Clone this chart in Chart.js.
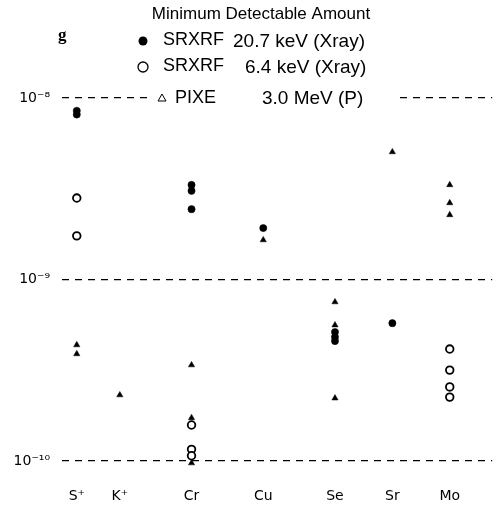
<!DOCTYPE html>
<html>
<head>
<meta charset="utf-8">
<script src="https://cdn.jsdelivr.net/npm/chart.js@4.4.1/dist/chart.umd.min.js"></script>
<style>
  body { margin: 0; background: #fff; }
  canvas { display: block; }
</style>
</head>
<body>
<canvas id="myChart" width="498" height="505"></canvas>
<script>
    "use strict";

    // elements on the x axis, placed by atomic number
    const elements = ['S\u207A', 'K\u207A', 'Cr', 'Cu', 'Se', 'Sr', 'Mo'];
    const atomicNumbers = [16, 19, 24, 29, 34, 38, 42];
    const yTicks = [1e-10, 1e-9, 1e-8];
    const yTickLabels = ['10\u207B\u00B9\u2070', '10\u207B\u2079', '10\u207B\u2078'];

    // SRXRF 20.7 keV (filled circles)
    const srxrf20Elems = ['S\u207A', 'S\u207A', 'Cr', 'Cr', 'Cr', 'Cu', 'Se', 'Se', 'Se', 'Sr'];
    const srxrf20Vals = [8.5e-9, 8.1e-9, 3.32e-9, 3.08e-9, 2.44e-9, 1.92e-9, 5.14e-10, 4.82e-10, 4.58e-10, 5.75e-10];

    // SRXRF 6.4 keV (open circles)
    const srxrf6Elems = ['S\u207A', 'S\u207A', 'Cr', 'Cr', 'Cr', 'Mo', 'Mo', 'Mo', 'Mo'];
    const srxrf6Vals = [2.81e-9, 1.74e-9, 1.58e-10, 1.16e-10, 1.07e-10, 4.14e-10, 3.17e-10, 2.56e-10, 2.25e-10];

    // PIXE 3.0 MeV (triangles)
    const pixeElems = ['S\u207A', 'S\u207A', 'K\u207A', 'Cr', 'Cr', 'Cr', 'Cu', 'Se', 'Se', 'Se', 'Sr', 'Mo', 'Mo', 'Mo'];
    const pixeVals = [4.36e-10, 3.89e-10, 2.31e-10, 3.38e-10, 1.73e-10, 9.75e-11, 1.65e-9, 7.52e-10, 5.61e-10, 2.22e-10, 5.04e-9, 3.32e-9, 2.64e-9, 2.27e-9];

    function toPoints(elems, vals) {
        return elems.map((e, i) => ({ x: atomicNumbers[elements.indexOf(e)], y: vals[i] }));
    }

    const legendPlugin = {
        id: 'mdaLegend',
        afterDraw(chart) {
            const c = chart.ctx;
            c.save();
            c.fillStyle = '#fff';
            c.fillRect(148, 86, 252, 24);
            c.fillStyle = '#000';
            c.strokeStyle = '#000';
            c.textBaseline = 'middle';
            c.font = '17px "Liberation Sans", Arial, sans-serif';
            c.textAlign = 'center';
            c.fillText('Minimum Detectable Amount', 261, 14);
            c.textAlign = 'left';
            c.font = 'bold 17px "Liberation Serif", serif';
            c.fillText('g', 58, 36);

            // row 1
            c.beginPath(); c.arc(143, 41, 4.5, 0, Math.PI * 2); c.fill();
            c.font = '18px "Liberation Sans", Arial, sans-serif';
            c.fillText('SRXRF', 163, 40);
            c.font = '19px "Liberation Sans", Arial, sans-serif';
            c.fillText('20.7 keV (Xray)', 233, 42);
            // row 2
            c.lineWidth = 1.3;
            c.beginPath(); c.arc(143, 67, 5, 0, Math.PI * 2); c.stroke();
            c.font = '18px "Liberation Sans", Arial, sans-serif';
            c.fillText('SRXRF', 163, 66);
            c.font = '19px "Liberation Sans", Arial, sans-serif';
            c.fillText('6.4 keV (Xray)', 245, 68);
            // row 3
            c.lineWidth = 1;
            c.beginPath(); c.moveTo(158, 101); c.lineTo(166, 101); c.lineTo(162, 94); c.closePath(); c.stroke();
            c.font = '18px "Liberation Sans", Arial, sans-serif';
            c.fillText('PIXE', 175, 98);
            c.font = '19px "Liberation Sans", Arial, sans-serif';
            c.fillText('3.0 MeV (P)', 262, 99);
            c.restore();
        }
    };

    const ctx = document.getElementById('myChart').getContext('2d');
    const chart = new Chart(ctx, {
        type: 'scatter',
        data: {
            datasets: [{
                    label: 'SRXRF 20.7 keV (Xray)',
                    data: toPoints(srxrf20Elems, srxrf20Vals),
                    pointStyle: 'circle',
                    pointRadius: 3.6,
                    backgroundColor: '#000',
                    borderColor: '#000',
                    borderWidth: 0.5
                },
                {
                    label: 'SRXRF 6.4 keV (Xray)',
                    data: toPoints(srxrf6Elems, srxrf6Vals),
                    pointStyle: 'circle',
                    pointRadius: 3.8,
                    backgroundColor: '#fff',
                    borderColor: '#000',
                    borderWidth: 1.8
                },
                {
                    label: 'PIXE 3.0 MeV (P)',
                    data: toPoints(pixeElems, pixeVals),
                    pointStyle: 'triangle',
                    pointRadius: 3.6,
                    backgroundColor: '#000',
                    borderColor: '#000',
                    borderWidth: 0.5
                }
            ]
        },
        options: {
            responsive: false,
            animation: false,
            layout: { padding: { top: 78, left: 0, right: 0, bottom: 0 } },
            plugins: {
                legend: { display: false },
                tooltip: { enabled: false }
            },
            scales: {
                x: {
                    type: 'linear',
                    min: 14.97,
                    max: 44.96,
                    afterBuildTicks: (scale) => { scale.ticks = atomicNumbers.map(v => ({ value: v })); },
                    afterFit: (scale) => { scale.height = 30; },
                    ticks: {
                        color: '#000',
                        padding: 5,
                        font: { size: 14, family: '"DejaVu Sans", sans-serif' },
                        callback: (v) => elements[atomicNumbers.indexOf(v)]
                    },
                    grid: { display: false },
                    border: { display: false }
                },
                y: {
                    type: 'logarithmic',
                    min: 8.38e-11,
                    max: 1.288e-8,
                    afterBuildTicks: (scale) => { scale.ticks = yTicks.map(v => ({ value: v })); },
                    afterFit: (scale) => { scale.width = 62; },
                    ticks: {
                        color: '#000',
                        padding: 12,
                        font: { size: 14, family: '"DejaVu Sans", sans-serif' },
                        callback: (v) => yTickLabels[yTicks.indexOf(v)]
                    },
                    grid: {
                        color: '#000',
                        lineWidth: 1.2,
                        drawTicks: false
                    },
                    border: { display: false, dash: [7, 6] }
                }
            }
        },
        plugins: [legendPlugin]
    });
</script>
</body>
</html>
